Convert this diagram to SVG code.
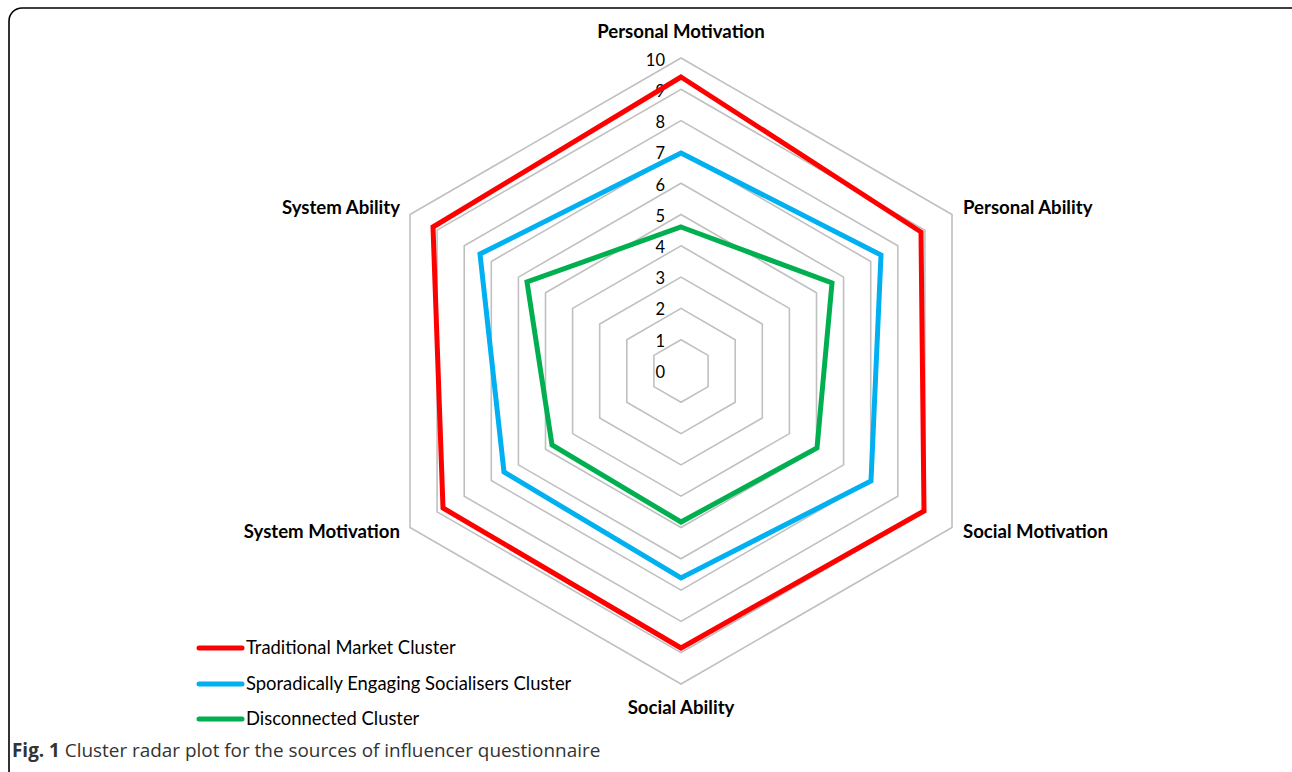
<svg xmlns="http://www.w3.org/2000/svg" width="1292" height="772" viewBox="0 0 1292 772">
<style>
.grid{fill:none;stroke:#c0c0c0;stroke-width:1.6}
.ser{fill:none;stroke-width:5;stroke-linejoin:miter}
.axl{font-family:Lato,"Open Sans",sans-serif;font-weight:bold;font-size:18.6px;fill:#000}
.tick{font-family:Lato,"Open Sans",sans-serif;font-size:16.5px;fill:#000;text-anchor:end}
.leg{font-family:Lato,"Open Sans",sans-serif;font-size:18.4px;fill:#000}
.legl{stroke-width:5;stroke-linecap:round}
.cap{font-family:"Open Sans",Lato,sans-serif;font-size:18.9px;fill:#333}
</style>
<rect x="9" y="8" width="1300" height="775" rx="13" fill="#fff" stroke="#000" stroke-width="1.6"/>
<g id="grid">
<polygon class="grid" points="681,339.7 708.1,355.35 708.1,386.65 681,402.3 653.9,386.65 653.9,355.35"/>
<polygon class="grid" points="681,308.4 735.2,339.7 735.2,402.3 681,433.6 626.8,402.3 626.8,339.7"/>
<polygon class="grid" points="681,277.1 762.3,324.05 762.3,417.95 681,464.9 599.7,417.95 599.7,324.05"/>
<polygon class="grid" points="681,245.8 789.4,308.4 789.4,433.6 681,496.2 572.6,433.6 572.6,308.4"/>
<polygon class="grid" points="681,214.5 816.5,292.75 816.5,449.25 681,527.5 545.5,449.25 545.5,292.75"/>
<polygon class="grid" points="681,183.2 843.6,277.1 843.6,464.9 681,558.8 518.4,464.9 518.4,277.1"/>
<polygon class="grid" points="681,151.9 870.7,261.45 870.7,480.55 681,590.1 491.3,480.55 491.3,261.45"/>
<polygon class="grid" points="681,120.6 897.8,245.8 897.8,496.2 681,621.4 464.2,496.2 464.2,245.8"/>
<polygon class="grid" points="681,89.3 924.9,230.15 924.9,511.85 681,652.7 437.1,511.85 437.1,230.15"/>
<polygon class="grid" points="681,58 952,214.5 952,527.5 681,684 410,527.5 410,214.5"/>
</g>
<g id="ticks">
<text class="tick" x="665" y="66">10</text>
<text class="tick" x="665" y="97">9</text>
<text class="tick" x="665" y="128">8</text>
<text class="tick" x="665" y="159">7</text>
<text class="tick" x="665" y="191">6</text>
<text class="tick" x="665" y="222">5</text>
<text class="tick" x="665" y="253">4</text>
<text class="tick" x="665" y="284">3</text>
<text class="tick" x="665" y="315">2</text>
<text class="tick" x="665" y="347">1</text>
<text class="tick" x="665" y="378">0</text>
</g>
<g id="axis-labels">
<text class="axl" x="681" y="38" text-anchor="middle">Personal Motivation</text>
<text class="axl" x="963" y="214">Personal Ability</text>
<text class="axl" x="963" y="538">Social Motivation</text>
<text class="axl" x="681" y="714" text-anchor="middle">Social Ability</text>
<text class="axl" x="400" y="538" text-anchor="end">System Motivation</text>
<text class="axl" x="400" y="214" text-anchor="end">System Ability</text>
</g>
<g id="connectors">
<polygon id="disconnected" class="ser" stroke="#00b050" points="681,227 832,283 817,448 681,522 552,445 527,282"/>
<polygon id="sporadic" class="ser" stroke="#00b0f0" points="681,153 881,255 871,481 681,578 504,472 480,254"/>
<polygon id="traditional" class="ser" stroke="#ff0000" points="681,77 921,232 924,511 681,648 443,508 433,227"/>
</g>
<g id="legend">
<line class="legl" x1="199" y1="648" x2="242" y2="648" stroke="#ff0000"/>
<text class="leg" x="246" y="654">Traditional Market Cluster</text>
<line class="legl" x1="199" y1="684" x2="242" y2="684" stroke="#00b0f0"/>
<text class="leg" x="246" y="690">Sporadically Engaging Socialisers Cluster</text>
<line class="legl" x1="199" y1="719" x2="242" y2="719" stroke="#00b050"/>
<text class="leg" x="246" y="725">Disconnected Cluster</text>
</g>
<g id="caption">
<text class="cap" x="12" y="757"><tspan font-weight="bold">Fig. 1</tspan> Cluster radar plot for the sources of influencer questionnaire</text>
</g>
</svg>
